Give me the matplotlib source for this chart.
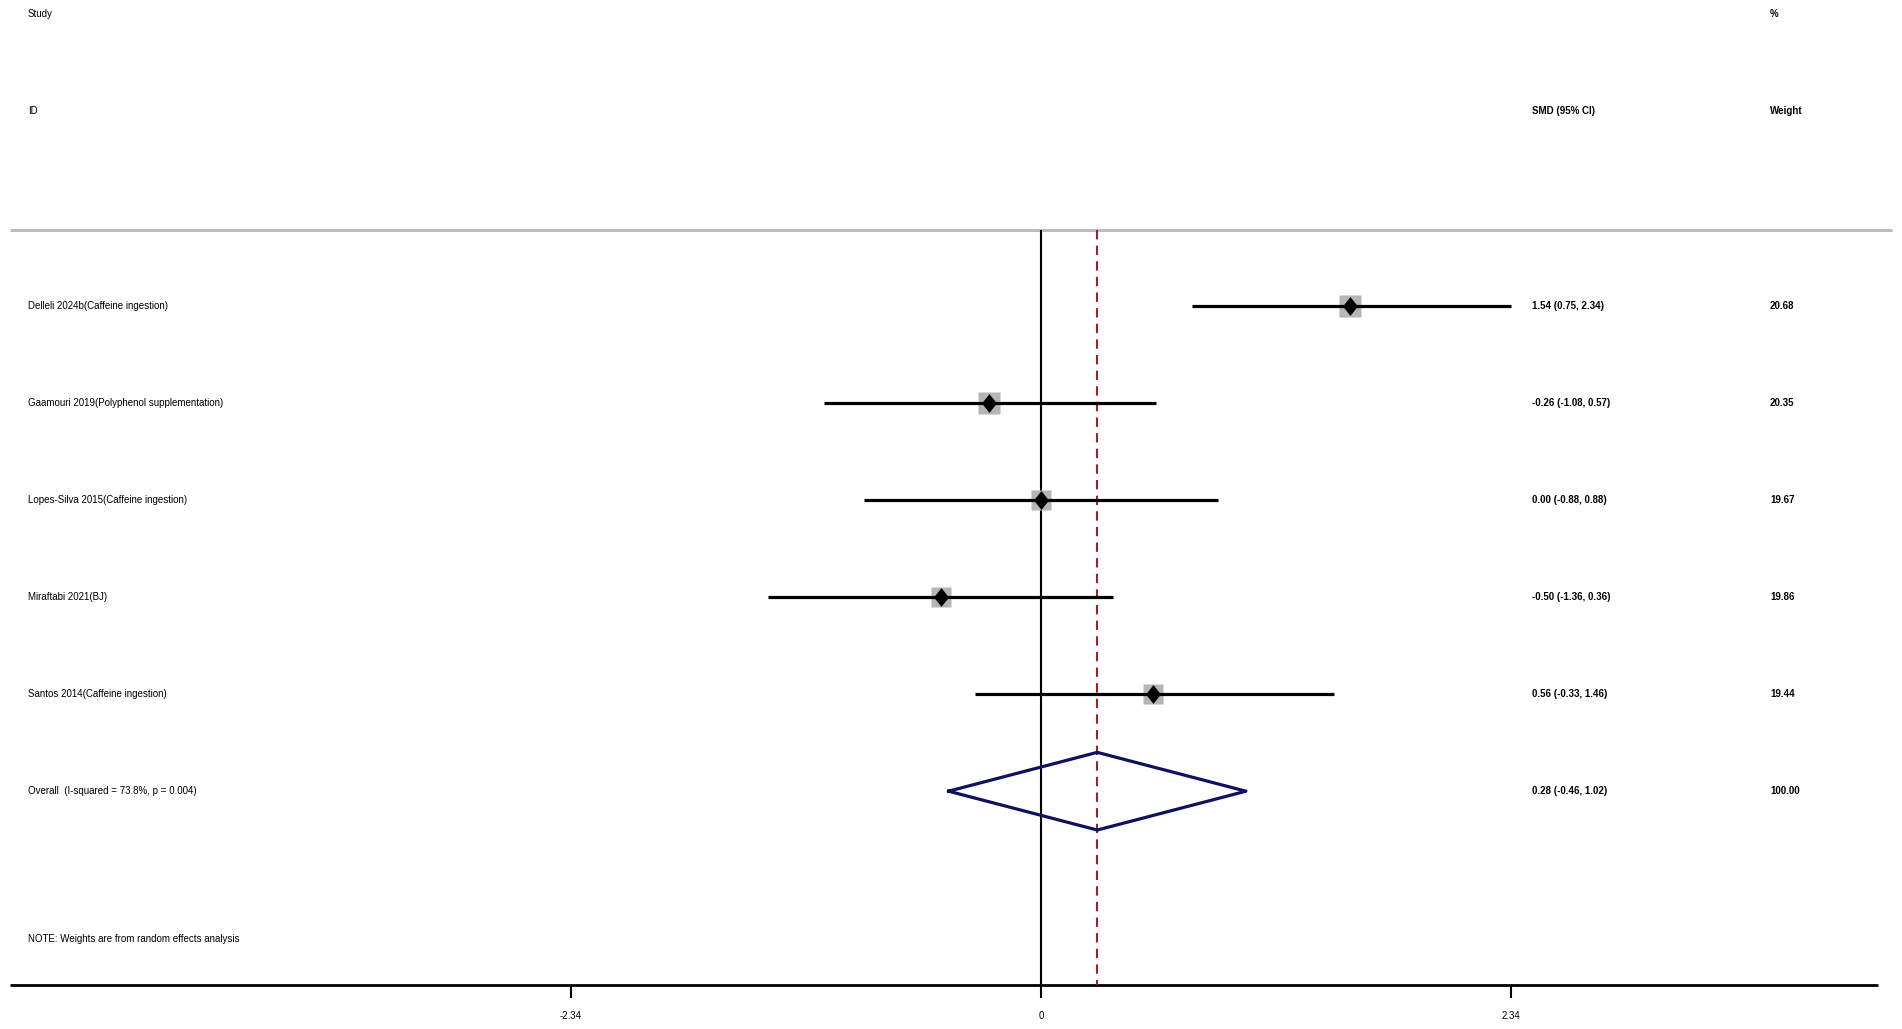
import numpy as np
import matplotlib
matplotlib.use("Agg")
import matplotlib.pyplot as plt

# ---------------------------------------------------------------------------
# data
# ---------------------------------------------------------------------------
STUDIES = [
    "Delleli 2024b(Caffeine ingestion)",
    "Gaamouri 2019(Polyphenol supplementation)",
    "Lopes-Silva 2015(Caffeine ingestion)",
    "Miraftabi 2021(BJ)",
    "Santos 2014(Caffeine ingestion)",
]
SMD     = [1.54, -0.26, 0.00, -0.50, 0.56]
CI_LOW  = [0.75, -1.08, -0.88, -1.36, -0.33]
CI_HIGH = [2.34, 0.57, 0.88, 0.36, 1.46]
WEIGHTS = [20.68, 20.35, 19.67, 19.86, 19.44]

OVERALL_LABEL  = "Overall  (I-squared = 73.8%, p = 0.004)"
OVERALL_SMD    = 0.28
OVERALL_LOW    = -0.46
OVERALL_HIGH   = 1.02
OVERALL_WEIGHT = 100.00

X_TICKS       = [-2.34, 0, 2.34]
X_TICK_LABELS = ["-2.34", "0", "2.34"]
NOTE = "NOTE: Weights are from random effects analysis"

plt.rcParams["font.family"] = ["Liberation Sans", "DejaVu Sans"]

fig = plt.figure(figsize=(19.02, 10.29), dpi=100)
ax = fig.add_axes([0, 0, 1, 1])
ax.set_xlim(-5.182, 4.286)
ax.set_ylim(7.449, -3.148)
ax.axis("off")

col = ax.get_yaxis_transform()   # x in axes fraction, y in rows
X_STUDY, X_EST, X_WT = 0.0147, 0.8053, 0.9306
FS = 7

# headers
ax.text(X_STUDY, -3, "Study", transform=col, va="center", fontsize=FS)
ax.text(X_STUDY, -2, "ID", transform=col, va="center", fontsize=FS)
ax.text(X_EST, -2, "SMD (95% CI)", transform=col, va="center", fontsize=FS, fontweight="bold")
ax.text(X_WT, -3, "%", transform=col, va="center", fontsize=FS, fontweight="bold")
ax.text(X_WT, -2, "Weight", transform=col, va="center", fontsize=FS, fontweight="bold")

# frame lines
top_line, axis_line = -0.775, 7.0
ax.hlines(top_line, -5.134, 4.236, color="#bdbdbd", lw=2.2, zorder=1)
ax.hlines(axis_line, -5.134, 4.165, color="black", lw=2.0, zorder=1)
ax.vlines(0, top_line, axis_line, color="black", lw=1.5, zorder=1)
ax.vlines(OVERALL_SMD, top_line, axis_line, color="#9b2226", lw=1.5,
          linestyles=(0, (4.5, 3)), zorder=1)

# x ticks
for t, lab in zip(X_TICKS, X_TICK_LABELS):
    ax.vlines(t, axis_line, axis_line + 0.13, color="black", lw=1.5)
    ax.text(t, 7.32, lab, ha="center", va="center", fontsize=7)

# studies
diamond = [(0, 1), (0.8, 0), (0, -1), (-0.8, 0)]
for i, name in enumerate(STUDIES):
    ax.text(X_STUDY, i, name, transform=col, va="center", fontsize=FS)
    ax.plot([CI_LOW[i], CI_HIGH[i]], [i, i], color="black", lw=2.3,
            solid_capstyle="butt", zorder=3)
    ax.plot(SMD[i], i, marker="s", ms=15 * np.sqrt(WEIGHTS[i] / 20.0),
            color="#b5b5b5", mec="none", zorder=2)
    ax.plot(SMD[i], i, marker=diamond, ms=13.5, color="black", mec="none", zorder=4)
    ax.text(X_EST, i, f"{SMD[i]:.2f} ({CI_LOW[i]:.2f}, {CI_HIGH[i]:.2f})",
            transform=col, va="center", fontsize=FS, fontweight="bold")
    ax.text(X_WT, i, f"{WEIGHTS[i]:.2f}", transform=col, va="center",
            fontsize=FS, fontweight="bold")

# overall
r = len(STUDIES)
ax.plot([OVERALL_LOW, OVERALL_SMD, OVERALL_HIGH, OVERALL_SMD, OVERALL_LOW],
        [r, r - 0.4, r, r + 0.4, r], color="#101060", lw=2.3, zorder=3)
ax.text(X_STUDY, r, OVERALL_LABEL, transform=col, va="center", fontsize=FS)
ax.text(X_EST, r, f"{OVERALL_SMD:.2f} ({OVERALL_LOW:.2f}, {OVERALL_HIGH:.2f})",
        transform=col, va="center", fontsize=FS, fontweight="bold")
ax.text(X_WT, r, f"{OVERALL_WEIGHT:.2f}", transform=col, va="center",
        fontsize=FS, fontweight="bold")

ax.text(X_STUDY, 6.52, NOTE, transform=col, va="center", fontsize=FS)

fig.savefig("out.png", dpi=100)
